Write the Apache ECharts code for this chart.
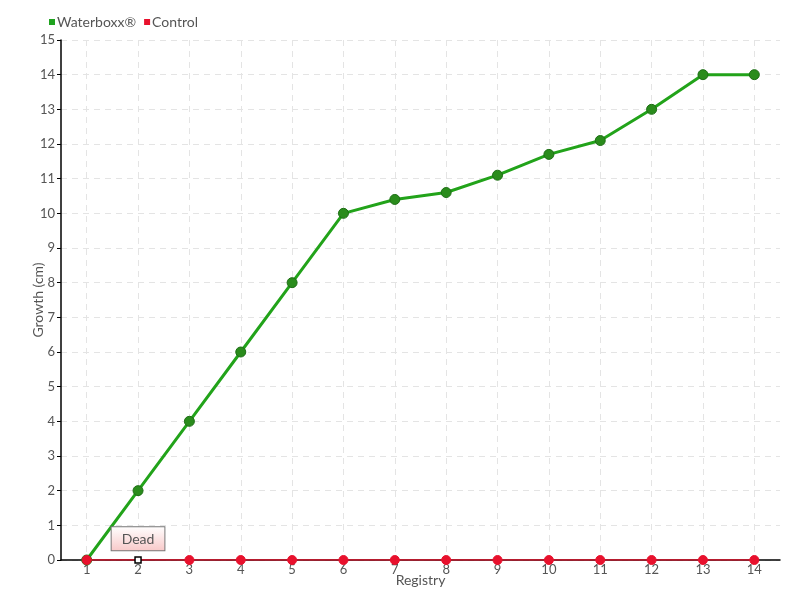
<!DOCTYPE html>
<html><head><meta charset="utf-8">
<script src="https://cdn.jsdelivr.net/npm/echarts@6/dist/echarts.min.js"></script>
<style>html,body{margin:0;padding:0;background:#fff}#c{width:800px;height:600px}</style>
</head><body><div id="c"></div>
<script>
var categories = ['1','2','3','4','5','6','7','8','9','10','11','12','13','14'];
var waterboxx = [0,2,4,6,8,10,10.4,10.6,11.1,11.7,12.1,13,14,14];
var control = [0,0,0,0,0,0,0,0,0,0,0,0,0,0];
var yTicks = [0,15,1];
var FONT = 'Lato, "Noto Sans", sans-serif';
var chart = echarts.init(document.getElementById('c'), null, {renderer:'canvas'});
var controlData = control.map(function(v,i){
  if (i === 1) {
    return {value: v, symbol: 'rect', symbolSize: 6,
      itemStyle: {color:'#fff', borderColor:'#000', borderWidth:1.5},
      label: {show:true, position:'top', distance:6, formatter:'Dead',
        color:'#555', fontSize:14, fontFamily:FONT,
        backgroundColor:{type:'linear',x:0,y:0,x2:0,y2:1,colorStops:[{offset:0,color:'#fff'},{offset:1,color:'#f8c8c8'}]},
        borderColor:'#777', borderWidth:1, padding:[5,10,4,10]}};
  }
  return v;
});
chart.setOption({
  animation:false,
  textStyle:{fontFamily:FONT},
  legend:{left:44, top:10, icon:'rect', itemWidth:6, itemHeight:6, itemGap:8,
    textStyle:{color:'#555', fontSize:14, fontFamily:FONT, padding:[0,0,0,-3]},
    data:[{name:'Waterboxx®', itemStyle:{color:'#1fa31f', borderWidth:0}},
          {name:'Control', itemStyle:{color:'#e8112d', borderWidth:0}}]},
  grid:{left:61, right:20, top:40, bottom:40},
  xAxis:{type:'category', data:categories, boundaryGap:true,
    name:'Registry', nameLocation:'middle', nameGap:13, nameMoveOverlap:false,
    nameTextStyle:{color:'#555', fontSize:14, fontFamily:FONT},
    axisLine:{lineStyle:{color:'#000', width:1.5}},
    axisTick:{show:false},
    axisLabel:{color:'#555', fontSize:13, fontFamily:FONT, margin:3},
    splitLine:{show:true, alignWithLabel:true, lineStyle:{color:'#e4e4e4', type:[6,5]}}},
  yAxis:{type:'value', min:yTicks[0], max:yTicks[1], interval:yTicks[2],
    name:'Growth (cm)', nameLocation:'middle', nameGap:16, nameMoveOverlap:false,
    nameTextStyle:{color:'#555', fontSize:14, fontFamily:FONT},
    axisLine:{show:true, lineStyle:{color:'#000', width:1.5}},
    axisTick:{show:true, length:4, lineStyle:{color:'#000'}},
    axisLabel:{color:'#555', fontSize:13, fontFamily:FONT, margin:6},
    splitLine:{show:true, lineStyle:{color:'#e4e4e4', type:[6,5]}}},
  series:[
    {name:'Waterboxx®', type:'line', data:waterboxx, symbol:'circle', symbolSize:10,
      lineStyle:{color:'#22a31a', width:3}, color:'#22a31a',
      itemStyle:{color:'#2a8c1c', borderColor:'#1d6e15', borderWidth:1}, z:3},
    {name:'Control', type:'line', data:controlData, symbol:'circle', symbolSize:9,
      lineStyle:{color:'#e0112a', width:1.5}, color:'#e8112d',
      itemStyle:{color:'#e8112d', borderColor:'#e8112d', borderWidth:1}, z:4}
  ]
});
</script></body></html>
